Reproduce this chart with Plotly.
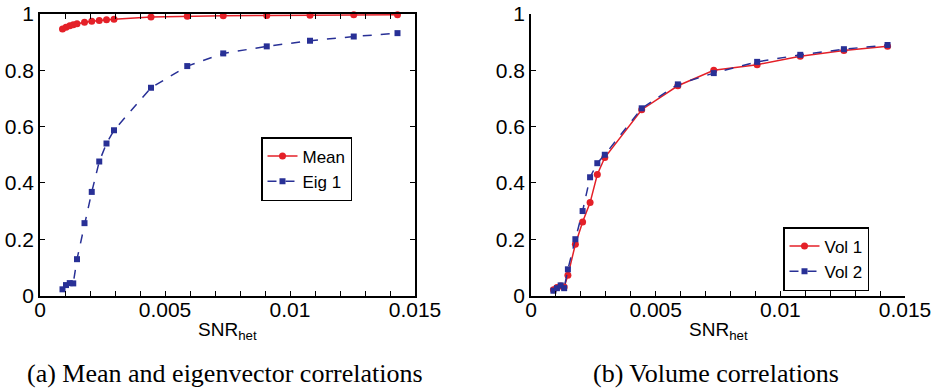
import plotly.graph_objects as go

# ---- data ----
snr = [0.0009, 0.00104, 0.00119, 0.00133, 0.00148, 0.00178, 0.00207, 0.00237,
       0.00266, 0.00296, 0.00444, 0.00589, 0.00733, 0.00907, 0.0108, 0.01255, 0.0143]
mean_corr = [0.947, 0.953, 0.958, 0.962, 0.965, 0.971, 0.974, 0.977,
             0.980, 0.981, 0.989, 0.992, 0.994, 0.995, 0.996, 0.997, 0.997]
eig1_corr = [0.022, 0.037, 0.044, 0.043, 0.129, 0.257, 0.368, 0.476,
             0.540, 0.587, 0.738, 0.815, 0.860, 0.885, 0.905, 0.920, 0.932]
vol1_corr = [0.020, 0.028, 0.034, 0.030, 0.072, 0.182, 0.261, 0.330,
             0.430, 0.490, 0.660, 0.745, 0.800, 0.820, 0.850, 0.870, 0.885]
vol2_corr = [0.017, 0.026, 0.036, 0.026, 0.093, 0.200, 0.300, 0.420,
             0.470, 0.500, 0.665, 0.750, 0.790, 0.830, 0.855, 0.875, 0.890]

x_ticks = [0, 0.005, 0.01, 0.015]
x_ticktext = ["0", "0.005", "0.01", "0.015"]
y_ticks = [0, 0.2, 0.4, 0.6, 0.8, 1]
y_ticktext = ["0", "0.2", "0.4", "0.6", "0.8", "1"]
x_title = "SNR<sub>het</sub>"
captions = ["(a) Mean and eigenvector correlations", "(b) Volume correlations"]

RED = "rgb(228,32,40)"
BLUE = "rgb(40,48,150)"
W, H = 932, 391
FONT = "Liberation Sans, Arial, sans-serif"
SERIF = "Liberation Serif, Times New Roman, serif"

fig = go.Figure()

def add(x, y, name, color, symbol, dash, xa, ya, legend, msize):
    fig.add_trace(go.Scatter(
        x=x, y=y, name=name, mode="lines+markers", xaxis=xa, yaxis=ya,
        legend=legend, cliponaxis=False,
        line=dict(color=color, width=1.5, dash=dash),
        marker=dict(color=color, symbol=symbol, size=msize, line=dict(width=0)),
    ))

add(snr, mean_corr, "Mean", RED, "circle", "solid", "x", "y", "legend", 7)
add(snr, eig1_corr, "Eig 1", BLUE, "square", "dash", "x", "y", "legend", 6)
add(snr, vol1_corr, "Vol 1", RED, "circle", "solid", "x2", "y2", "legend2", 7)
add(snr, vol2_corr, "Vol 2", BLUE, "square", "dash", "x2", "y2", "legend2", 6)

y0, y1 = 1 - 295.5 / H, 1 - 14 / H

def xaxis(dom, box):
    return dict(
        domain=dom, range=[0, 0.015], tickvals=x_ticks, ticktext=x_ticktext,
        automargin=False, ticklabelstandoff=-5,
        ticks="inside", ticklen=5, tickwidth=1, tickcolor="black",
        showline=True, linecolor="black", linewidth=1.5,
        mirror="ticks" if box else False, showgrid=False, zeroline=False,
        minor=dict(tickvals=[i / 1000 for i in range(1, 15)], ticks="inside",
                   ticklen=5, tickcolor="black", tickwidth=1),
        tickfont=dict(size=21, color="black", family=FONT),
    )

def yaxis(anchor, box):
    return dict(
        domain=[y0, y1], range=[0, 1], tickvals=y_ticks, ticktext=y_ticktext,
        anchor=anchor, automargin=False,
        ticks="inside", ticklen=5, tickwidth=1, tickcolor="black",
        showline=True, linecolor="black", linewidth=1.5,
        mirror="ticks" if box else False, showgrid=False, zeroline=False,
        tickfont=dict(size=21, color="black", family=FONT),
    )

legend_common = dict(
    bgcolor="white", bordercolor="black", borderwidth=1.5,
    font=dict(size=17, color="black", family=FONT),
    xanchor="left", yanchor="top", tracegroupgap=0, itemwidth=30,
)

annots = []
for cx, cap in zip([225, 716], captions):
    annots.append(dict(text=cap, x=cx / W, y=1 - 373 / H,
                       xref="paper", yref="paper", showarrow=False,
                       xanchor="center", yanchor="middle",
                       font=dict(size=26, color="black", family=SERIF)))
for cx in [227.5, 718]:
    annots.append(dict(text=x_title, x=cx / W, y=1 - 317 / H,
                       xref="paper", yref="paper", showarrow=False,
                       xanchor="center", yanchor="top",
                       font=dict(size=19, color="black", family=FONT)))

fig.update_layout(
    width=W, height=H, margin=dict(l=0, r=0, t=0, b=0, autoexpand=False),
    paper_bgcolor="white", plot_bgcolor="white",
    xaxis=dict(xaxis([40 / W, 415 / W], True), anchor="y"),
    yaxis=yaxis("x", True),
    xaxis2=dict(xaxis([531 / W, 905 / W], False), anchor="y2"),
    yaxis2=yaxis("x2", False),
    legend=dict(legend_common, x=261 / W, y=1 - 137 / H),
    legend2=dict(legend_common, x=783 / W, y=1 - 227 / H),
    annotations=annots,
)

fig.write_html("out.html")
